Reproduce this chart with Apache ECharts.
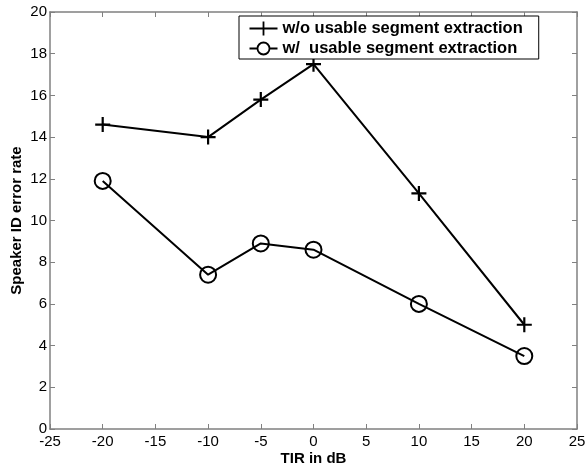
<!DOCTYPE html>
<html>
<head>
<meta charset="utf-8">
<script src="https://cdn.jsdelivr.net/npm/echarts@6/dist/echarts.min.js"></script>
<style>
    html, body { margin: 0; padding: 0; background: #fff; }
    #chart { width: 587px; height: 465px; }
</style>
</head>
<body>
<div id="chart"></div>
<script>
    // data
    const tir = [-20, -10, -5, 0, 10, 20];
    const withoutExtraction = [14.6, 14.0, 15.8, 17.5, 11.3, 5.0];
    const withExtraction = [11.9, 7.4, 8.9, 8.6, 6.0, 3.5];
    const seriesNames = ['w/o usable segment extraction', 'w/  usable segment extraction'];

    const pairs = (xs, ys) => xs.map((x, i) => [x, ys[i]]);

    const plusPath = 'path://M0,7 L14,7 M7,0 L7,14';
    const legendPlus = 'path://M0,7 L28,7 M14,0 L14,14';
    const legendCircle = 'path://M0,7 L8,7 M20,7 L28,7 M20,7 A6,6 0 1 1 8,7 A6,6 0 1 1 20,7';

    const chart = echarts.init(document.getElementById('chart'));
    const axisFont = { fontFamily: 'Liberation Sans', fontSize: 15, color: '#000' };
    const boxLine = { onZero: false, lineStyle: { color: '#808080', width: 1.5 } };
    const tick = { inside: true, length: 5, lineStyle: { color: '#808080' } };

    chart.setOption({
        animation: false,
        grid: { left: 50, right: 10, top: 12, bottom: 36, containLabel: false, outerBoundsMode: 'none' },
        legend: {
            orient: 'vertical',
            left: 239,
            top: 16,
            itemWidth: 28,
            itemHeight: 14,
            itemGap: 2,
            padding: [3, 16, 2, 8],
            backgroundColor: '#fff',
            borderColor: '#000',
            borderWidth: 1,
            borderRadius: 0,
            textStyle: { fontFamily: 'Liberation Sans', fontWeight: 'bold', fontSize: 16.5, color: '#000' },
            data: [
                { name: seriesNames[0], icon: legendPlus, itemStyle: { color: 'none', borderColor: '#000', borderWidth: 1.8 } },
                { name: seriesNames[1], icon: legendCircle, itemStyle: { color: 'none', borderColor: '#000', borderWidth: 1.8 } }
            ]
        },
        xAxis: [{
            type: 'value',
            min: -25, max: 25, interval: 5,
            name: 'TIR in dB',
            nameLocation: 'middle',
            nameMoveOverlap: false,
            nameGap: 22,
            nameTextStyle: { fontFamily: 'Liberation Sans', fontWeight: 'bold', fontSize: 15, color: '#000' },
            axisLine: boxLine,
            axisTick: tick,
            axisLabel: Object.assign({ margin: 5 }, axisFont),
            splitLine: { show: false }
        }, {
            type: 'value', position: 'top',
            min: -25, max: 25, interval: 5,
            axisLine: boxLine,
            axisTick: tick,
            axisLabel: { show: false },
            splitLine: { show: false }
        }],
        yAxis: [{
            type: 'value',
            min: 0, max: 20, interval: 2,
            name: 'Speaker ID error rate',
            nameLocation: 'middle',
            nameMoveOverlap: false,
            nameGap: 26,
            nameTextStyle: { fontFamily: 'Liberation Sans', fontWeight: 'bold', fontSize: 15, color: '#000' },
            axisLine: boxLine,
            axisTick: tick,
            axisLabel: Object.assign({ margin: 3 }, axisFont),
            splitLine: { show: false }
        }, {
            type: 'value', position: 'right',
            min: 0, max: 20, interval: 2,
            axisLine: boxLine,
            axisTick: tick,
            axisLabel: { show: false },
            splitLine: { show: false }
        }],
        series: [{
            name: seriesNames[0],
            type: 'line',
            data: pairs(tir, withoutExtraction),
            symbol: plusPath,
            symbolSize: 15,
            showAllSymbol: true,
            lineStyle: { color: '#000', width: 2 },
            itemStyle: { color: 'none', borderColor: '#000', borderWidth: 2.2 }
        }, {
            name: seriesNames[1],
            type: 'line',
            data: pairs(tir, withExtraction),
            symbol: 'circle',
            symbolSize: 16,
            showAllSymbol: true,
            lineStyle: { color: '#000', width: 2 },
            itemStyle: { color: 'none', borderColor: '#000', borderWidth: 2 }
        }]
    });
</script>
</body>
</html>
